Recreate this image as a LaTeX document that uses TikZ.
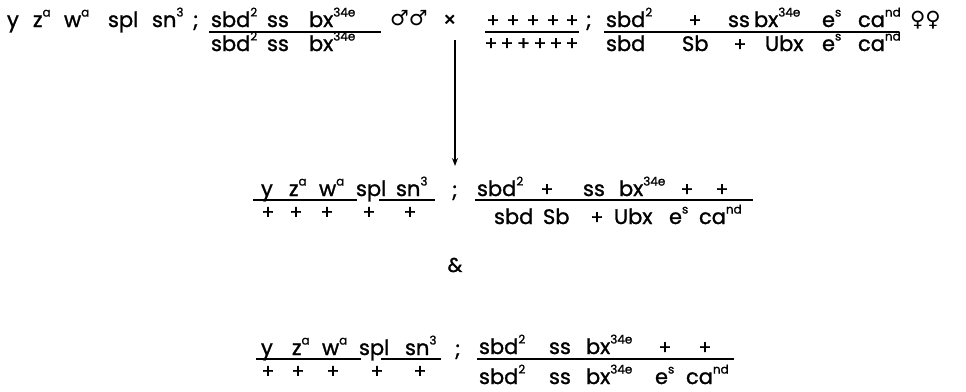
\documentclass[tikz,border=0pt]{standalone}
\usepackage{fontspec}
\setmainfont{Poppins}[FakeBold=1.2]
\newfontfamily\symfont{DejaVu Sans}
\usetikzlibrary{arrows.meta}
\newcommand\myup[1]{\raisebox{10.5pt}{\fontsize{12}{12}\selectfont #1}}
\tikzset{
  tx/.style={anchor=base west, inner sep=0pt, outer sep=0pt, font=\fontsize{21}{24}\selectfont},
  pb/.style={anchor=base, inner sep=0pt, outer sep=0pt, font=\fontsize{19}{22}\selectfont},
  pc/.style={anchor=center, inner sep=0pt, outer sep=0pt, font=\fontsize{19}{20}\selectfont},
  bar/.style={line width=1.8pt},
  arr/.style={line width=1.3pt, -{Stealth[length=8pt,width=6pt]}},
}
\begin{document}
\begin{tikzpicture}[x=1pt,y=-1pt]
\useasboundingbox (0,0) rectangle (966,391);
% ---------- row 1 ----------
\node[tx] (a1) at (7,27) {y};
\node[tx] (a2) at (33,27) {z\myup{a}};
\node[tx] (a3) at (64,27) {w\myup{a}};
\node[tx] (a4) at (108,27) {spl};
\node[tx] (a5) at (152,27) {sn\myup{3}};
\node[tx] (a6) at (193,27) {;};
% fraction 1
\node[tx] (b1) at (211,27) {sbd\myup{2}};
\node[tx] (b2) at (267,27) {ss};
\node[tx] (b3) at (309,27) {bx\myup{34e}};
\node[tx] (b4) at (211,51) {sbd\myup{2}};
\node[tx] (b5) at (267,51) {ss};
\node[tx] (b6) at (309,51) {bx\myup{34e}};
\coordinate (b7) at (209,32);
\coordinate (b8) at (381,32);
\draw[bar] (b7) -- (b8);
\node[tx, font=\symfont\fontsize{21}{22}\selectfont] (c1) at (390,25) {♂♂};
\node[tx] (c2) at (443,27) {×};
% fraction 2
\foreach \i/\x in {1/493,2/513,3/533,4/553,5/572}{
  \node[pb] (d\i) at (\x,27) {+};
}
\foreach \i/\x in {1/491,2/507,3/523.5,4/540,5/556,6/572}{
  \node[pb] (e\i) at (\x,50) {+};
}
\coordinate (d7) at (485,32);
\coordinate (d8) at (579,32);
\draw[bar] (d7) -- (d8);
\node[tx] (f0) at (586,27) {;};
% fraction 3
\node[tx] (f1) at (606,27) {sbd\myup{2}};
\node[pb] (f2) at (695,27) {+};
\node[tx] (f3) at (728,27) {ss};
\node[tx] (f4) at (754,27) {bx\myup{34e}};
\node[tx] (f5) at (822,27) {e\myup{s}};
\node[tx] (f6) at (858,27) {ca\myup{nd}};
\node[tx] (g1) at (606,51) {sbd};
\node[tx] (g2) at (682,51) {Sb};
\node[pb] (g3) at (740,51) {+};
\node[tx] (g4) at (765,51) {Ubx};
\node[tx] (g5) at (822,51) {e\myup{s}};
\node[tx] (g6) at (858,51) {ca\myup{nd}};
\coordinate (g7) at (604,32);
\coordinate (g8) at (899,32);
\draw[bar] (g7) -- (g8);
\node[tx, font=\symfont\fontsize{21}{22}\selectfont] (h1) at (910,26) {♀♀};
% arrow
\coordinate (k1) at (455,40);
\coordinate (k2) at (455,166);
\draw[arr] (k1) -- (k2);
% ---------- row 2 ----------
\node[tx] (m1) at (261,196) {y};
\node[tx] (m2) at (289,196) {z\myup{a}};
\node[tx] (m3) at (319,196) {w\myup{a}};
\node[tx] (m4) at (356,196) {spl};
\node[tx] (m5) at (396,196) {sn\myup{3}};
\coordinate (m6) at (253,200);
\coordinate (m7) at (357,200);
\coordinate (m9) at (379,200);
\coordinate (m10) at (435,200);
\draw[bar] (m6) -- (m7) (m9) -- (m10);
\foreach \i/\x in {1/268,2/296,3/327,4/369,5/410}{
  \node[pc] (n\i) at (\x,213) {+};
}
\node[tx] (m8) at (452,197) {;};
\node[tx] (p1) at (477,196) {sbd\myup{2}};
\node[pb] (p2) at (547,196) {+};
\node[tx] (p3) at (583,196) {ss};
\node[tx] (p4) at (619,196) {bx\myup{34e}};
\node[pb] (p5) at (687,196) {+};
\node[pb] (p6) at (722,196) {+};
\node[tx] (q1) at (494,224) {sbd};
\node[tx] (q2) at (543,224) {Sb};
\node[pb] (q3) at (597,224) {+};
\node[tx] (q4) at (614,224) {Ubx};
\node[tx] (q5) at (669,224) {e\myup{s}};
\node[tx] (q6) at (699,224) {ca\myup{nd}};
\coordinate (p7) at (475,200);
\coordinate (p8) at (753,200);
\draw[bar] (p7) -- (p8);
% ampersand
\node[anchor=center, inner sep=0pt, font=\fontsize{20}{22}\selectfont] (r1) at (455,265) {\&};
% ---------- row 3 ----------
\node[tx] (s1) at (261,355) {y};
\node[tx] (s2) at (292,355) {z\myup{a}};
\node[tx] (s3) at (322,355) {w\myup{a}};
\node[tx] (s4) at (359,355) {spl};
\node[tx] (s5) at (405,355) {sn\myup{3}};
\coordinate (s6) at (256,359);
\coordinate (s7) at (361,359);
\coordinate (s9) at (381,359);
\coordinate (s10) at (441,359);
\draw[bar] (s6) -- (s7) (s9) -- (s10);
\foreach \i/\x in {1/268,2/298,3/333,4/377,5/420}{
  \node[pc] (t\i) at (\x,372) {+};
}
\node[tx] (s8) at (455,356) {;};
\node[tx] (u1) at (479,354) {sbd\myup{2}};
\node[tx] (u2) at (549,354) {ss};
\node[tx] (u3) at (586,354) {bx\myup{34e}};
\node[pb] (u4) at (665,354) {+};
\node[pb] (u5) at (705,354) {+};
\node[tx] (v1) at (479,384) {sbd\myup{2}};
\node[tx] (v2) at (549,384) {ss};
\node[tx] (v3) at (586,384) {bx\myup{34e}};
\node[tx] (v4) at (655,384) {e\myup{s}};
\node[tx] (v5) at (686,384) {ca\myup{nd}};
\coordinate (u6) at (477,359);
\coordinate (u7) at (734,359);
\draw[bar] (u6) -- (u7);
\end{tikzpicture}
\end{document}
